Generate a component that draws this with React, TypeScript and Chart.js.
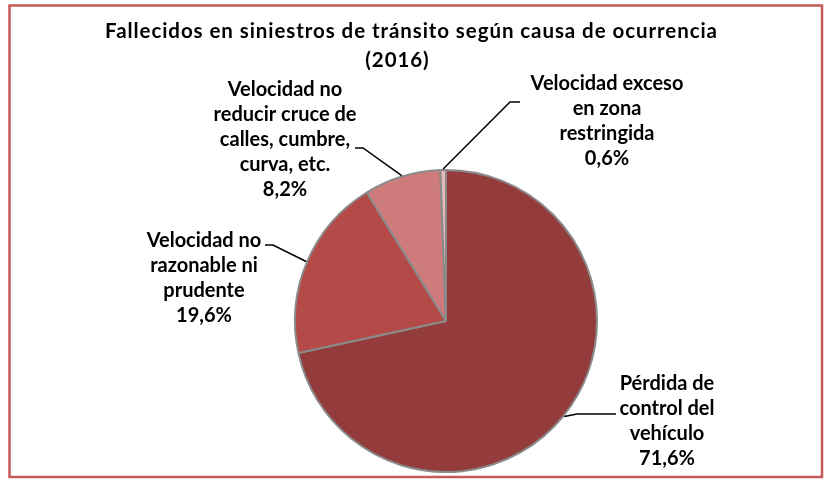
import React, { useEffect, useRef } from "react";
import { Chart, registerables } from "chart.js";

Chart.register(...registerables);

const TITLE_LINES = ["Fallecidos en siniestros de tránsito según causa de ocurrencia", "(2016)"];
const CATEGORIES = [
  "Pérdida de control del vehículo",
  "Velocidad no razonable ni prudente",
  "Velocidad no reducir cruce de calles, cumbre, curva, etc.",
  "Velocidad exceso en zona restringida",
];
const VALUES = [71.6, 19.6, 8.2, 0.6];
const LABEL_LINES = [
  ["Pérdida de", "control del", "vehículo"],
  ["Velocidad no", "razonable ni", "prudente"],
  ["Velocidad no", "reducir cruce de", "calles, cumbre,", "curva, etc."],
  ["Velocidad exceso", "en zona", "restringida"],
];
const COLORS = ["#943c3b", "#b34a48", "#cd7c7b", "#e6b9b8"];

// layout of labels (center x, first baseline y) and leader lines (elbow, end)
const LABEL_POS = [
  { x: 667, y: 390 },
  { x: 204, y: 247 },
  { x: 285, y: 96 },
  { x: 607, y: 90 },
];
const LEADERS = [
  { ex: 577, ey: 414, tx: 616, ty: 414 },
  { ex: 273, ey: 245, tx: 265, ty: 245 },
  { ex: 363, ey: 148, tx: 355, ty: 148 },
  { ex: 510, ey: 102, tx: 520, ty: 102 },
];
const LINE_H = 25;
const LABEL_FONT = "bold 20px Lato";
const TITLE_FONT = "bold 20.5px Lato";
const TITLE_WIDTH = 612;

const fmt = (v: number) => v.toFixed(1).replace(".", ",") + "%";

const overlay = {
  id: "overlay",
  beforeDraw(chart: any) {
    const ctx = chart.ctx;
    ctx.save();
    ctx.fillStyle = "#ffffff";
    ctx.fillRect(0, 0, chart.width, chart.height);
    ctx.restore();
  },
  afterDraw(chart: any) {
    const ctx = chart.ctx;
    ctx.save();
    // frame
    ctx.strokeStyle = "#c65a58";
    ctx.lineWidth = 2.5;
    ctx.strokeRect(9.5, 5.5, 812.5, 471.5);
    // title
    ctx.fillStyle = "#000";
    ctx.font = TITLE_FONT;
    ctx.textAlign = "left";
    ctx.textBaseline = "alphabetic";
    const t0 = TITLE_LINES[0];
    const w0 = ctx.measureText(t0).width;
    const sp = Math.max(0, (TITLE_WIDTH - w0) / (t0.length - 1));
    (ctx as any).letterSpacing = sp + "px";
    ctx.fillText(t0, 411 - TITLE_WIDTH / 2, 38);
    const t1 = TITLE_LINES[1];
    const w1 = ctx.measureText(t1).width - sp;
    ctx.fillText(t1, 397 - w1 / 2, 67);
    (ctx as any).letterSpacing = "0px";
    // labels + leader lines
    const meta = chart.getDatasetMeta(0);
    meta.data.forEach((arc: any, i: number) => {
      const { x, y, startAngle, endAngle, outerRadius } = arc.getProps(
        ["x", "y", "startAngle", "endAngle", "outerRadius"],
        true
      );
      const mid = (startAngle + endAngle) / 2;
      const px = x + Math.cos(mid) * (outerRadius + 1);
      const py = y + Math.sin(mid) * (outerRadius + 1);
      const L = LEADERS[i];
      ctx.strokeStyle = "#000";
      ctx.lineWidth = 1.5;
      ctx.beginPath();
      ctx.moveTo(px, py);
      ctx.lineTo(L.ex, L.ey);
      ctx.lineTo(L.tx, L.ty);
      ctx.stroke();
      const lines = [...LABEL_LINES[i], fmt(VALUES[i])];
      const P = LABEL_POS[i];
      ctx.fillStyle = "#000";
      ctx.font = LABEL_FONT;
      ctx.textAlign = "center";
      lines.forEach((t, k) => ctx.fillText(t, P.x, P.y + k * LINE_H));
    });
    ctx.restore();
  },
};

export default function App() {
  const ref = useRef<HTMLCanvasElement>(null);
  useEffect(() => {
    if (!ref.current) return;
    const chart = new Chart(ref.current, {
      type: "pie",
      data: {
        labels: CATEGORIES,
        datasets: [
          {
            data: VALUES,
            backgroundColor: COLORS,
            borderColor: "#8a8a8a",
            borderWidth: 2,
          },
        ],
      },
      options: {
        animation: false,
        responsive: false,
        maintainAspectRatio: false,
        layout: { padding: { left: 294, right: 226, top: 169, bottom: 6 } },
        plugins: {
          legend: { display: false },
          title: { display: false },
          tooltip: { enabled: false },
        },
      },
      plugins: [overlay],
    });
    return () => chart.destroy();
  }, []);
  return (
    <div style={{ position: "fixed", left: 0, top: 0, width: 824, height: 479 }}>
      <canvas ref={ref} width={824} height={479} style={{ width: 824, height: 479, display: "block" }} />
    </div>
  );
}
